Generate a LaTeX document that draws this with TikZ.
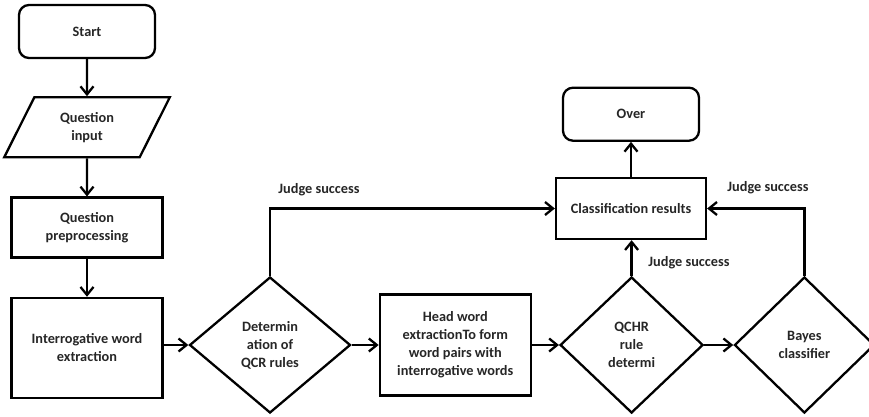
\documentclass[tikz,border=0pt]{standalone}
\usepackage{fontspec}
\setmainfont{Carlito}
\usetikzlibrary{arrows.meta}
\usetikzlibrary{positioning}
\usetikzlibrary{shapes.geometric}

\begin{document}
\begin{tikzpicture}[x=1pt,y=-1pt,node distance=0,on grid=false,
	every node/.style={font=\fontsize{14.3}{18}\selectfont\bfseries,align=center,text=black!85},
	term/.style={draw,line width=2.3pt,rounded corners=10pt,minimum width=136pt,minimum height=53pt},
	io/.style={draw,line width=2.3pt,trapezium,trapezium left angle=63,trapezium right angle=117,
		trapezium stretches=true,minimum width=167pt,minimum height=60pt,inner sep=0pt},
	proc/.style={draw,line width=2.3pt,minimum width=151pt},
	decide/.style={draw,line width=2.3pt,diamond,inner sep=0pt,minimum height=136pt},
	arr/.style={line width=2.3pt,-{Straight Barb[length=8pt,width=13pt]}}]
				    \useasboundingbox (0,0) rectangle (869,416);
				    % Place nodes
				    \node [term] (start) at (87,31.5) {Start};
				    \node [io,below=37pt of start] (input) {Question\\input};
				    \node [proc,minimum height=60pt,below=38pt of input] (prep) {Question\\preprocessing};
				    \node [proc,minimum height=100pt,below=38pt of prep] (extract) {Interrogative word\\extraction};
				    \node [decide,minimum width=161pt] (det) at (270,345) {Determin\\ation of\\QCR rules};
				    \node [proc,minimum height=101pt,right=27pt of det] (head) {Head word\\extractionTo form\\word pairs with\\interrogative words};
				    \node [decide,minimum width=143pt,right=27pt of head] (qchr) {QCHR\\rule\\determi};
				    \node [decide,minimum width=140pt,right=29pt of qchr] (bayes) {Bayes\\classifier};
				    \node [proc,minimum width=150pt,minimum height=61pt] (class) at (631,208.5) {Classification results};
				    \node [term,above=35pt of class] (over) {Over};
				    \node (js1) at (319,190) {Judge success};
				    \node (js2) at (689,263) {Judge success};
				    \node (js3) at (768,188) {Judge success};
				    % Draw arrows
				    \draw [arr] (start) -- (input);
				    \draw [arr] (input) -- (prep);
				    \draw [arr] (prep) -- (extract);
				    \draw [arr] (extract.east |- det.west) -- (det.west);
				    \draw [arr] (det) -- (head);
				    \draw [arr] (head) -- (qchr);
				    \draw [arr] (qchr) -- (bayes);
				    \draw [arr] (det.north) |- (class.west);
				    \draw [arr] (qchr.north) -- (qchr.north |- class.south);
				    \draw [arr] (bayes.north) |- (class.east);
				    \draw [arr] (class) -- (over);
				\end{tikzpicture}
\end{document}
